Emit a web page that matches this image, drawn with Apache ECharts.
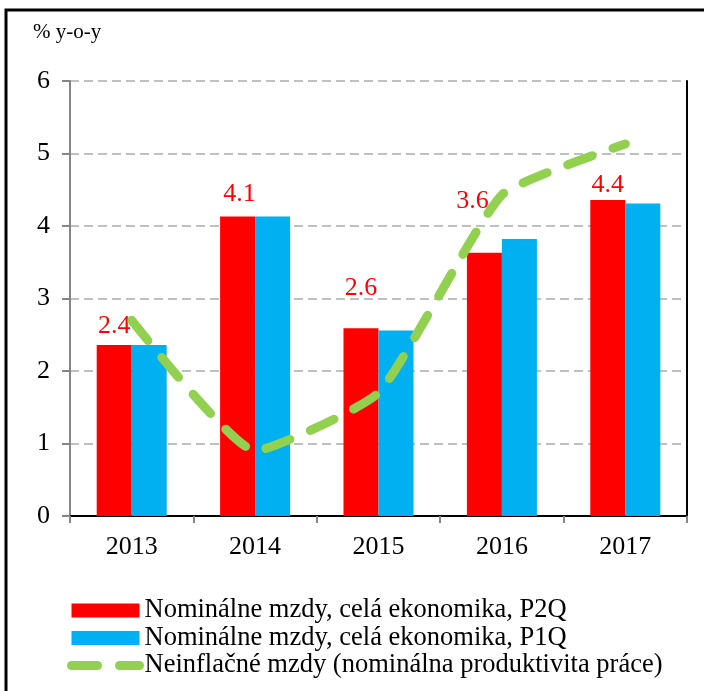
<!DOCTYPE html>
<html>
<head>
<meta charset="utf-8">
<script src="https://cdn.jsdelivr.net/npm/echarts@6/dist/echarts.min.js"></script>
<style>
  html, body { margin: 0; padding: 0; background: #fff; }
  #main { width: 704px; height: 691px; }
</style>
</head>
<body>
<div id="main"></div>
<script>
// roky
var years = ['2013', '2014', '2015', '2016', '2017'];
// nominalne mzdy P2Q a P1Q
var mzdyP2Q = [2.36, 4.13, 2.59, 3.63, 4.36];
var mzdyP1Q = [2.36, 4.13, 2.56, 3.82, 4.31];
// neinflacne mzdy
var neinflacne = [2.7, 0.9, 1.7, 4.43, 5.13];
var yTicks = [0, 1, 2, 3, 4, 5, 6];

var names = [
  'Nominálne mzdy, celá ekonomika, P2Q',
  'Nominálne mzdy, celá ekonomika, P1Q',
  'Neinflačné mzdy (nominálna produktivita práce)'
];

// posun popisov nad cervenymi stlpcami (ako v povodnom grafe)
var labelOffsets = [[0, -6], [2, -9], [0, -27], [-12, -39], [0, -2]];

var font = 'Liberation Serif, Times New Roman, serif';
var chart = echarts.init(document.getElementById('main'));

var option = {
  backgroundColor: '#fff',
  animation: false,
  textStyle: { fontFamily: font },
  graphic: [
    {
      type: 'rect',
      shape: { x: 6, y: 10, width: 720, height: 700 },
      style: { fill: 'none', stroke: '#000', lineWidth: 3 },
      silent: true
    },
    {
      type: 'text',
      left: 33,
      top: 22,
      style: { text: '% y-o-y', fontSize: 21, fontFamily: font, fill: '#000' }
    }
  ],
  grid: { left: 70, right: 17, top: 81, bottom: 175 },
  legend: {
    orient: 'vertical',
    left: 62,
    top: 592,
    itemWidth: 68,
    itemHeight: 14,
    itemGap: 0.5,
    itemTextGap: 7,
    textStyle: { fontSize: 26.5, fontFamily: font, color: '#000' },
    data: [
      { name: names[0], icon: 'rect' },
      { name: names[1], icon: 'rect' },
      { name: names[2], lineStyle: { width: 9 }, itemStyle: { opacity: 0 } }
    ]
  },
  xAxis: [
    {
      type: 'category',
      data: years,
      axisLine: { lineStyle: { color: '#868686', width: 2 } },
      axisTick: { show: true, length: 7, lineStyle: { color: '#868686', width: 2 } },
      axisLabel: { fontSize: 26, color: '#000', margin: 18, fontFamily: font }
    },
    {
      type: 'category',
      data: years,
      position: 'top',
      axisLine: { show: true, lineStyle: { color: '#000', width: 2 } },
      axisTick: { show: false },
      axisLabel: { show: false }
    }
  ],
  yAxis: [
    {
      type: 'value',
      min: yTicks[0],
      max: yTicks[yTicks.length - 1],
      interval: 1,
      axisLine: { show: true, lineStyle: { color: '#868686', width: 2 } },
      axisTick: { show: true, length: 8, lineStyle: { color: '#868686', width: 2 } },
      axisLabel: { fontSize: 26, color: '#000', margin: 20, fontFamily: font },
      splitLine: { show: true, lineStyle: { color: '#c0c0c0', width: 2, type: [9, 5] } }
    },
    {
      type: 'value',
      min: yTicks[0],
      max: yTicks[yTicks.length - 1],
      interval: 1,
      position: 'right',
      axisLine: { show: true, lineStyle: { color: '#000', width: 2 } },
      axisTick: { show: false },
      axisLabel: { show: false },
      splitLine: { show: false }
    }
  ],
  series: [
    {
      name: names[0],
      type: 'bar',
      barWidth: 35,
      barGap: '0%',
      itemStyle: { color: '#ff0000' },
      label: {
        show: true,
        position: 'top',
        distance: 0,
        color: '#ff0000',
        fontSize: 26,
        fontFamily: font,
        formatter: function (p) { return p.value.toFixed(1); }
      },
      data: mzdyP2Q.map(function (v, i) {
        return { value: v, label: { offset: labelOffsets[i] } };
      })
    },
    {
      name: names[1],
      type: 'bar',
      barWidth: 35,
      barGap: '0%',
      itemStyle: { color: '#00b0f0' },
      data: mzdyP1Q
    },
    {
      name: names[2],
      type: 'line',
      smooth: 0.15,
      symbol: 'none',
      z: 5,
      lineStyle: { color: '#92d050', width: 9, type: [26, 22], cap: 'round', join: 'round' },
      itemStyle: { color: '#92d050' },
      data: neinflacne
    }
  ]
};

chart.setOption(option);
</script>
</body>
</html>
